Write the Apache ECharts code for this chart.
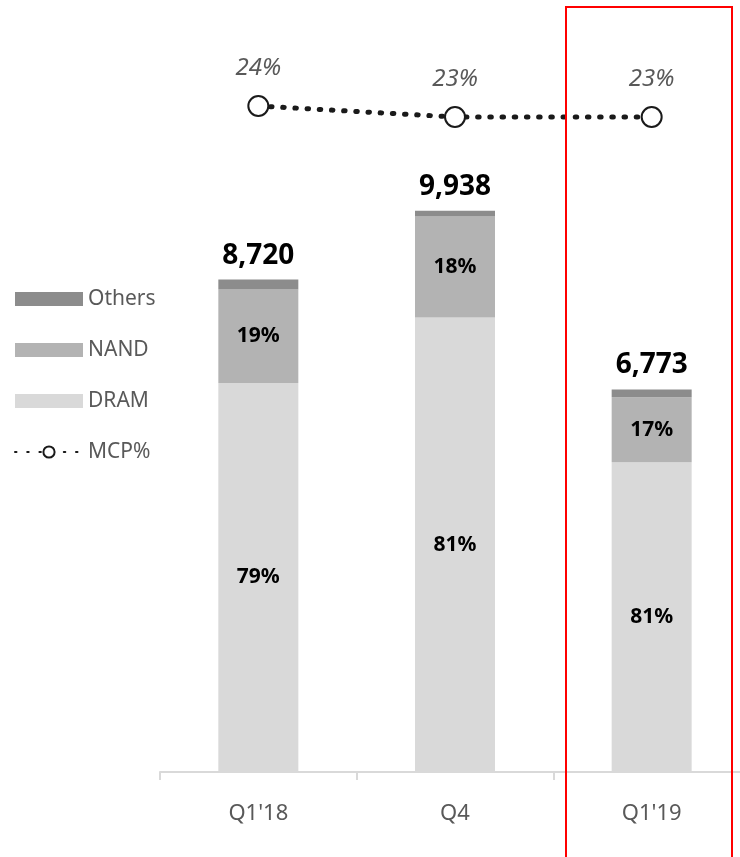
<!DOCTYPE html>
<html>
<head>
<meta charset="utf-8">
<script src="https://cdn.jsdelivr.net/npm/echarts@6/dist/echarts.min.js"></script>
<style>html,body{margin:0;padding:0;background:#fff;overflow:hidden;width:740px;height:857px}#c{width:750px;height:857px}</style>
</head>
<body>
<div id="c"></div>
<script>
var categories = ["Q1'18", "Q4", "Q1'19"];
var totals = [8720, 9938, 6773];
var dram = [6889, 8050, 5486];
var nand = [1657, 1789, 1151];
var others = [174, 99, 136];
var dramPct = ["79%", "81%", "81%"];
var nandPct = ["19%", "18%", "17%"];
var mcp = [24, 23, 23];

var FONT = 'Noto Sans';
var chart = echarts.init(document.getElementById('c'));
chart.setOption({
  animation: false,
  textStyle: { fontFamily: FONT },
  grid: { left: 160, top: 52, bottom: 85, right: 0 },
  legend: {
    orient: 'vertical', left: 14, top: 288, padding: 0, itemWidth: 68, itemHeight: 14, itemGap: 29,
    textStyle: { fontSize: 21, color: '#595959', lineHeight: 22, fontFamily: FONT },
    data: [{ name: 'Others', icon: 'rect' }, { name: 'NAND', icon: 'rect' }, { name: 'DRAM', icon: 'rect' }, { name: 'MCP%' }]
  },
  xAxis: {
    type: 'category', data: categories,
    axisLine: { show: true, lineStyle: { color: '#d9d9d9', width: 2 } },
    axisTick: { show: true, length: 8, lineStyle: { color: '#d9d9d9', width: 2 } },
    axisLabel: { fontSize: 22, color: '#595959', margin: 31, fontFamily: FONT }
  },
  yAxis: [
    { type: 'value', min: 0, max: 12750, show: false, splitLine: { show: false } },
    { type: 'value', min: -36.545, max: 28.909, show: false, splitLine: { show: false } }
  ],
  series: [
    { name: 'DRAM', type: 'bar', stack: 's', data: dram, barWidth: 80,
      itemStyle: { color: '#d9d9d9' },
      label: { show: true, position: 'inside', fontSize: 21, fontWeight: 'bold', color: '#000', fontFamily: FONT,
        formatter: function (p) { return dramPct[p.dataIndex]; } } },
    { name: 'NAND', type: 'bar', stack: 's', data: nand, barWidth: 80,
      itemStyle: { color: '#b3b3b3' },
      label: { show: true, position: 'inside', fontSize: 21, fontWeight: 'bold', color: '#000', fontFamily: FONT,
        formatter: function (p) { return nandPct[p.dataIndex]; } } },
    { name: 'Others', type: 'bar', stack: 's', data: others, barWidth: 80,
      itemStyle: { color: '#8c8c8c' },
      label: { show: true, position: 'top', distance: 10, fontSize: 28, fontWeight: 'bold', color: '#000', fontFamily: FONT,
        formatter: function (p) { return totals[p.dataIndex].toLocaleString('en-US'); } } },
    { name: 'MCP%', type: 'line', yAxisIndex: 1, data: mcp,
      symbol: 'circle', symbolSize: 20,
      itemStyle: { color: '#fff', borderColor: '#1a1a1a', borderWidth: 2 },
      lineStyle: { color: '#1a1a1a', width: 5, type: [1.5, 10.7], cap: 'round' },
      label: { show: true, position: 'top', distance: 15, fontSize: 24, fontStyle: 'italic', color: '#595959', fontFamily: FONT,
        formatter: function (p) { return p.value + '%'; } },
      z: 5 }
  ],
  graphic: [
    { type: 'rect', z: 100, shape: { x: 566, y: 7, width: 166, height: 870 },
      style: { fill: 'none', stroke: '#ff0000', lineWidth: 2 } }
  ]
});
</script>
</body>
</html>
